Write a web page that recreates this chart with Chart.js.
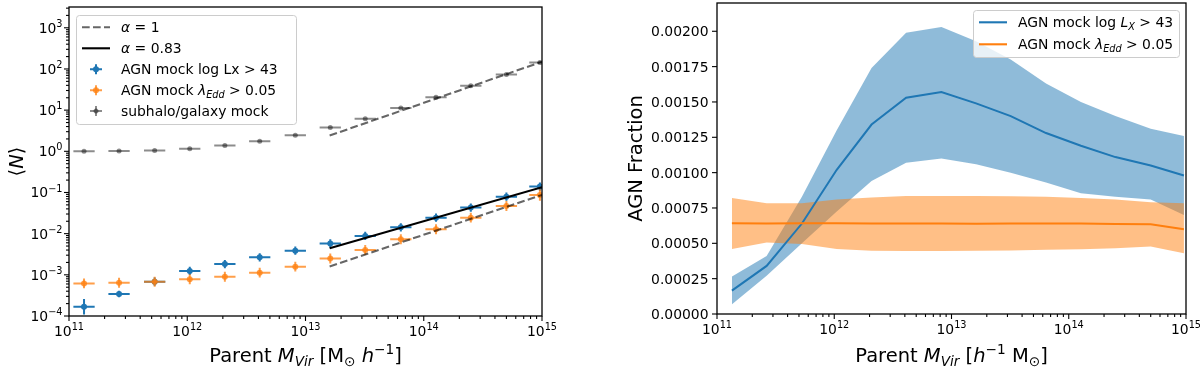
<!DOCTYPE html>
<html>
<head>
<meta charset="utf-8">
<script src="https://cdn.jsdelivr.net/npm/chart.js@4.4.0/dist/chart.umd.min.js"></script>
<style>
  html, body { margin: 0; padding: 0; background: #fff; }
  #wrap { position: relative; width: 1200px; height: 367px; }
  .panel { position: absolute; top: 0; width: 600px; height: 367px; }
</style>
</head>
<body>
<div id="wrap">
  <div class="panel" style="left:0"><canvas id="occChart" width="600" height="367"></canvas></div>
  <div class="panel" style="left:600px"><canvas id="fracChart" width="600" height="367"></canvas></div>
</div>
<script>
// halo mass bin centres (shared by both panels)
const massBins = [1.34e11, 2.65e11, 5.3e11, 1.05e12, 2.08e12, 4.1e12, 8.2e12, 1.62e13, 3.2e13, 6.4e13, 1.27e14, 2.5e14, 5.0e14, 9.6e14];
const massErrDex = 0.09;

// left panel: mean occupation <N>
const nAgnLx = [1.68e-4, 3.42e-4, 6.8e-4, 1.24e-3, 1.83e-3, 2.66e-3, 3.87e-3, 5.8e-3, 8.8e-3, 0.0143, 0.0245, 0.043, 0.079, 0.139];
const errAgnLxDex = [0.19, 0.08, 0.1, 0.1, 0.1, 0.1, 0.1, 0.1, 0.1, 0.1, 0.1, 0.1, 0.1, 0.1];
const nAgnEdd = [6.2e-4, 6.4e-4, 6.8e-4, 7.8e-4, 9.0e-4, 1.13e-3, 1.58e-3, 2.5e-3, 4.0e-3, 7.3e-3, 0.0128, 0.0245, 0.047, 0.087];
const errAgnEddDex = [0.12, 0.12, 0.12, 0.12, 0.12, 0.12, 0.12, 0.12, 0.12, 0.12, 0.12, 0.12, 0.12, 0.14];
const nSubhalo = [1.0, 1.02, 1.05, 1.16, 1.38, 1.76, 2.46, 3.77, 6.2, 11.2, 20.6, 38.9, 73, 143];
const errSubhaloDex = [0.02, 0.02, 0.02, 0.02, 0.02, 0.02, 0.02, 0.02, 0.02, 0.02, 0.02, 0.02, 0.02, 0.02];

// power-law guide lines
const fitMass = [1.6e13, 1e15];
const fitAlpha1Sub = [2.41, 150];
const fitAlpha1Edd = [1.6e-3, 0.087];
const fitAlpha083 = [4.4e-3, 0.134];

// right panel: AGN fraction with bands
const fracLx = [0.000165, 0.00034, 0.00064, 0.00102, 0.00134, 0.00153, 0.00157, 0.00149, 0.0014, 0.00128, 0.00119, 0.00111, 0.00105, 0.00098];
const fracLxLo = [0.000069, 0.00027, 0.0005, 0.000725, 0.00094, 0.00107, 0.0011, 0.00106, 0.001, 0.00093, 0.000855, 0.00083, 0.00081, 0.0007];
const fracLxHi = [0.000264, 0.00041, 0.00083, 0.0013, 0.00174, 0.00199, 0.00203, 0.00193, 0.0018, 0.00163, 0.0015, 0.0014, 0.00131, 0.00126];
const fracEdd = [0.000642, 0.00064, 0.000642, 0.000642, 0.00064, 0.00064, 0.00064, 0.000638, 0.00064, 0.000641, 0.00064, 0.000637, 0.000635, 0.0006];
const fracEddLo = [0.00046, 0.000505, 0.000496, 0.00046, 0.000448, 0.000445, 0.000445, 0.000448, 0.00045, 0.000455, 0.000458, 0.000465, 0.000477, 0.00043];
const fracEddHi = [0.00082, 0.000784, 0.000784, 0.00081, 0.000825, 0.000835, 0.000835, 0.000835, 0.000833, 0.00083, 0.00082, 0.00081, 0.00079, 0.000784];

// ticks
const massTicks = [1e11, 1e12, 1e13, 1e14, 1e15];
const occTicks = [1e-4, 1e-3, 1e-2, 1e-1, 1, 10, 100, 1000];
const fracTicks = [0, 0.00025, 0.0005, 0.00075, 0.001, 0.00125, 0.0015, 0.00175, 0.002];

const C0 = '#1f77b4';
const C1 = 'rgba(255,127,14,0.75)';
const GREY = 'rgba(0,0,0,0.45)';
const FONT = '"DejaVu Sans", sans-serif';

function pts(xs, ys) { return xs.map((x, i) => ({ x: x, y: ys[i] })); }

// error bars as broken line segments (null breaks the path)
function errSegments(xs, ys, yDex) {
  const out = [];
  const f = Math.pow(10, massErrDex);
  xs.forEach((m, i) => {
    const g = Math.pow(10, yDex[i]);
    out.push({ x: m / f, y: ys[i] }, { x: m * f, y: ys[i] }, { x: m, y: null });
    out.push({ x: m, y: ys[i] / g }, { x: m, y: ys[i] * g }, { x: m, y: null });
  });
  return out;
}

function setFont(ctx, size, italic) {
  ctx.font = (italic ? 'italic ' : '') + size + 'px ' + FONT;
}

// rich text: runs of {t, it, sub, sup}
function drawRich(ctx, runs, x, y, size, align) {
  let total = 0;
  const ws = runs.map(r => {
    setFont(ctx, (r.sub || r.sup) ? size * 0.7 : size, r.it);
    const w = ctx.measureText(r.t).width;
    total += w;
    return w;
  });
  let cx = align === 'center' ? x - total / 2 : (align === 'right' ? x - total : x);
  ctx.textAlign = 'left';
  ctx.textBaseline = 'alphabetic';
  runs.forEach((r, i) => {
    setFont(ctx, (r.sub || r.sup) ? size * 0.7 : size, r.it);
    const dy = r.sub ? size * 0.22 : (r.sup ? -size * 0.43 : 0);
    ctx.fillText(r.t, cx, y + dy);
    cx += ws[i];
  });
}

function powerRuns(v) {
  const e = Math.round(Math.log10(v));
  return [{ t: '10' }, { t: (e < 0 ? '\u2212' : '') + Math.abs(e), sup: true }];
}

function logMinors(min, max) {
  const out = [];
  for (let d = Math.floor(Math.log10(min)); d <= Math.ceil(Math.log10(max)); d++) {
    for (let k = 2; k <= 9; k++) {
      const v = k * Math.pow(10, d);
      if (v >= min && v <= max) out.push(v);
    }
  }
  return out;
}

function drawLegend(ctx, lg) {
  ctx.save();
  ctx.beginPath();
  ctx.roundRect(lg.x + 0.5, lg.y + 0.5, lg.w, lg.h, 3);
  ctx.fillStyle = 'rgba(255,255,255,0.8)';
  ctx.fill();
  ctx.strokeStyle = '#cccccc';
  ctx.lineWidth = 1;
  ctx.stroke();
  lg.rows.forEach(r => {
    const x0 = lg.x + 6, x1 = lg.x + 34, xm = lg.x + 20;
    ctx.strokeStyle = r.color;
    ctx.fillStyle = r.color;
    if (r.kind === 'dash' || r.kind === 'line') {
      ctx.lineWidth = 2.1;
      ctx.setLineDash(r.kind === 'dash' ? [7.7, 3.3] : []);
      ctx.beginPath(); ctx.moveTo(x0, r.y); ctx.lineTo(x1, r.y); ctx.stroke();
      ctx.setLineDash([]);
    } else {
      ctx.lineWidth = 2;
      ctx.beginPath();
      ctx.moveTo(xm - 6, r.y); ctx.lineTo(xm + 6, r.y);
      ctx.moveTo(xm, r.y - 5); ctx.lineTo(xm, r.y + 5);
      ctx.stroke();
      ctx.beginPath(); ctx.arc(xm, r.y, r.rad, 0, Math.PI * 2); ctx.fill();
    }
    ctx.fillStyle = '#000';
    drawRich(ctx, r.runs, lg.x + 45, r.y + 5, 13.9, 'left');
  });
  ctx.restore();
}

function makeFrame(cfg) {
  return {
    id: 'mplFrame',
    afterDraw(chart) {
      const ctx = chart.ctx, a = chart.chartArea;
      const xs = chart.scales.x, ys = chart.scales.y;
      ctx.save();
      ctx.strokeStyle = '#000';
      ctx.fillStyle = '#000';
      ctx.lineWidth = 1.1;
      const tick = (px, py, dx, dy) => {
        ctx.beginPath(); ctx.moveTo(px, py); ctx.lineTo(px + dx, py + dy); ctx.stroke();
      };
      logMinors(xs.min, xs.max).forEach(v => tick(xs.getPixelForValue(v), a.bottom, 0, 3));
      cfg.xTicks.forEach(v => {
        const p = xs.getPixelForValue(v);
        tick(p, a.bottom, 0, 5);
        drawRich(ctx, powerRuns(v), p, a.bottom + 20, 13.9, 'center');
      });
      if (cfg.yLog) {
        logMinors(ys.min, ys.max).forEach(v => tick(a.left, ys.getPixelForValue(v), -3, 0));
        cfg.yTicks.forEach(v => {
          const p = ys.getPixelForValue(v);
          tick(a.left, p, -5, 0);
          drawRich(ctx, powerRuns(v), a.left - 6.5, p + 5, 13.9, 'right');
        });
      } else {
        cfg.yTicks.forEach(v => {
          const p = ys.getPixelForValue(v);
          tick(a.left, p, -5, 0);
          drawRich(ctx, [{ t: v.toFixed(5) }], a.left - 8.5, p + 5, 13.9, 'right');
        });
      }
      ctx.lineWidth = 1.3;
      ctx.strokeRect(a.left, a.top, a.right - a.left, a.bottom - a.top);

      drawRich(ctx, cfg.xTitle, (a.left + a.right) / 2, 362, 19.5, 'center');
      ctx.save();
      ctx.translate(cfg.yTitleX, (a.top + a.bottom) / 2);
      ctx.rotate(-Math.PI / 2);
      drawRich(ctx, cfg.yTitle, 0, 0, 19.5, 'center');
      ctx.restore();

      drawLegend(ctx, cfg.legend);
      ctx.restore();
    }
  };
}

function fixedAxis(size, isX) {
  return s => { if (isX) s.height = size; else s.width = size; };
}

// ---- left panel ----
const lineStyle = { showLine: true, pointRadius: 0, spanGaps: false, tension: 0 };

new Chart(document.getElementById('occChart'), {
  type: 'scatter',
  data: {
    datasets: [
      Object.assign({ data: errSegments(massBins, nAgnLx, errAgnLxDex), borderColor: C0, borderWidth: 2, order: 19 }, lineStyle),
      { data: pts(massBins, nAgnLx), pointRadius: 3, pointBackgroundColor: C0, pointBorderWidth: 0, order: 18 },
      Object.assign({ data: errSegments(massBins, nAgnEdd, errAgnEddDex), borderColor: C1, borderWidth: 2, order: 17 }, lineStyle),
      { data: pts(massBins, nAgnEdd), pointRadius: 3, pointBackgroundColor: C1, pointBorderWidth: 0, order: 16 },
      Object.assign({ data: errSegments(massBins, nSubhalo, errSubhaloDex), borderColor: GREY, borderWidth: 2, order: 15 }, lineStyle),
      { data: pts(massBins, nSubhalo), pointRadius: 2.5, pointBackgroundColor: GREY, pointBorderWidth: 0, order: 14 },
      Object.assign({ data: pts(fitMass, fitAlpha1Sub), borderColor: 'rgba(0,0,0,0.6)', borderWidth: 2.1, borderDash: [7.7, 3.3], order: 13 }, lineStyle),
      Object.assign({ data: pts(fitMass, fitAlpha1Edd), borderColor: 'rgba(0,0,0,0.6)', borderWidth: 2.1, borderDash: [7.7, 3.3], order: 12 }, lineStyle),
      Object.assign({ data: pts(fitMass, fitAlpha083), borderColor: '#000', borderWidth: 2.1, order: 11 }, lineStyle)
    ]
  },
  options: {
    responsive: false,
    animation: false,
    layout: { padding: { left: 0, right: 58, top: 7, bottom: 0 } },
    plugins: { legend: { display: false }, tooltip: { enabled: false } },
    scales: {
      x: { type: 'logarithmic', min: 1e11, max: 1e15, grid: { display: false }, border: { display: false }, ticks: { display: false }, afterFit: fixedAxis(51, true) },
      y: { type: 'logarithmic', min: 1e-4, max: 3200, grid: { display: false }, border: { display: false }, ticks: { display: false }, afterFit: fixedAxis(69, false) }
    }
  },
  plugins: [makeFrame({
    xTicks: massTicks, yTicks: occTicks, yLog: true, yTitleX: 23,
    xTitle: [{ t: 'Parent ' }, { t: 'M', it: true }, { t: 'Vir', it: true, sub: true }, { t: ' [M' }, { t: '\u2299', sub: true }, { t: ' ' }, { t: 'h', it: true }, { t: '\u22121', sup: true }, { t: ']' }],
    yTitle: [{ t: '\u27E8' }, { t: 'N', it: true }, { t: '\u27E9' }],
    legend: {
      x: 76, y: 15, w: 220, h: 109,
      rows: [
        { y: 27.3, kind: 'dash', color: 'rgba(0,0,0,0.6)', runs: [{ t: '\u03B1', it: true }, { t: ' = 1' }] },
        { y: 48.3, kind: 'line', color: '#000', runs: [{ t: '\u03B1', it: true }, { t: ' = 0.83' }] },
        { y: 69.3, kind: 'err', color: C0, rad: 3, runs: [{ t: 'AGN mock log Lx > 43' }] },
        { y: 90.2, kind: 'err', color: C1, rad: 3, runs: [{ t: 'AGN mock ' }, { t: '\u03BB', it: true }, { t: 'Edd', it: true, sub: true }, { t: ' > 0.05' }] },
        { y: 111, kind: 'err', color: GREY, rad: 2.5, runs: [{ t: 'subhalo/galaxy mock' }] }
      ]
    }
  })]
});

// ---- right panel ----
const bandStyle = { pointRadius: 0, borderWidth: 0, borderColor: 'rgba(0,0,0,0)', tension: 0 };

new Chart(document.getElementById('fracChart'), {
  type: 'line',
  data: {
    datasets: [
      Object.assign({ data: pts(massBins, fracLxHi), fill: '+1', backgroundColor: 'rgba(31,119,180,0.5)', order: 6 }, bandStyle),
      Object.assign({ data: pts(massBins, fracLxLo), fill: false, order: 5 }, bandStyle),
      Object.assign({ data: pts(massBins, fracEddHi), fill: '+1', backgroundColor: 'rgba(255,127,14,0.5)', order: 4 }, bandStyle),
      Object.assign({ data: pts(massBins, fracEddLo), fill: false, order: 3 }, bandStyle),
      { data: pts(massBins, fracLx), borderColor: C0, borderWidth: 2, pointRadius: 0, fill: false, tension: 0, order: 2 },
      { data: pts(massBins, fracEdd), borderColor: '#ff7f0e', borderWidth: 2, pointRadius: 0, fill: false, tension: 0, order: 1 }
    ]
  },
  options: {
    responsive: false,
    animation: false,
    layout: { padding: { left: 0, right: 14, top: 3, bottom: 0 } },
    plugins: { legend: { display: false }, tooltip: { enabled: false } },
    scales: {
      x: { type: 'logarithmic', min: 1e11, max: 1e15, grid: { display: false }, border: { display: false }, ticks: { display: false }, afterFit: fixedAxis(53, true) },
      y: { type: 'linear', min: 0, max: 0.0022, grid: { display: false }, border: { display: false }, ticks: { display: false }, afterFit: fixedAxis(117, false) }
    }
  },
  plugins: [makeFrame({
    xTicks: massTicks, yTicks: fracTicks, yLog: false, yTitleX: 42,
    xTitle: [{ t: 'Parent ' }, { t: 'M', it: true }, { t: 'Vir', it: true, sub: true }, { t: ' [' }, { t: 'h', it: true }, { t: '\u22121', sup: true }, { t: ' M' }, { t: '\u2299', sub: true }, { t: ']' }],
    yTitle: [{ t: 'AGN Fraction' }],
    legend: {
      x: 373, y: 10, w: 206, h: 47,
      rows: [
        { y: 22.3, kind: 'line', color: C0, runs: [{ t: 'AGN mock log ' }, { t: 'L', it: true }, { t: 'X', it: true, sub: true }, { t: ' > 43' }] },
        { y: 44.3, kind: 'line', color: '#ff7f0e', runs: [{ t: 'AGN mock ' }, { t: '\u03BB', it: true }, { t: 'Edd', it: true, sub: true }, { t: ' > 0.05' }] }
      ]
    }
  })]
});
</script>
</body>
</html>
